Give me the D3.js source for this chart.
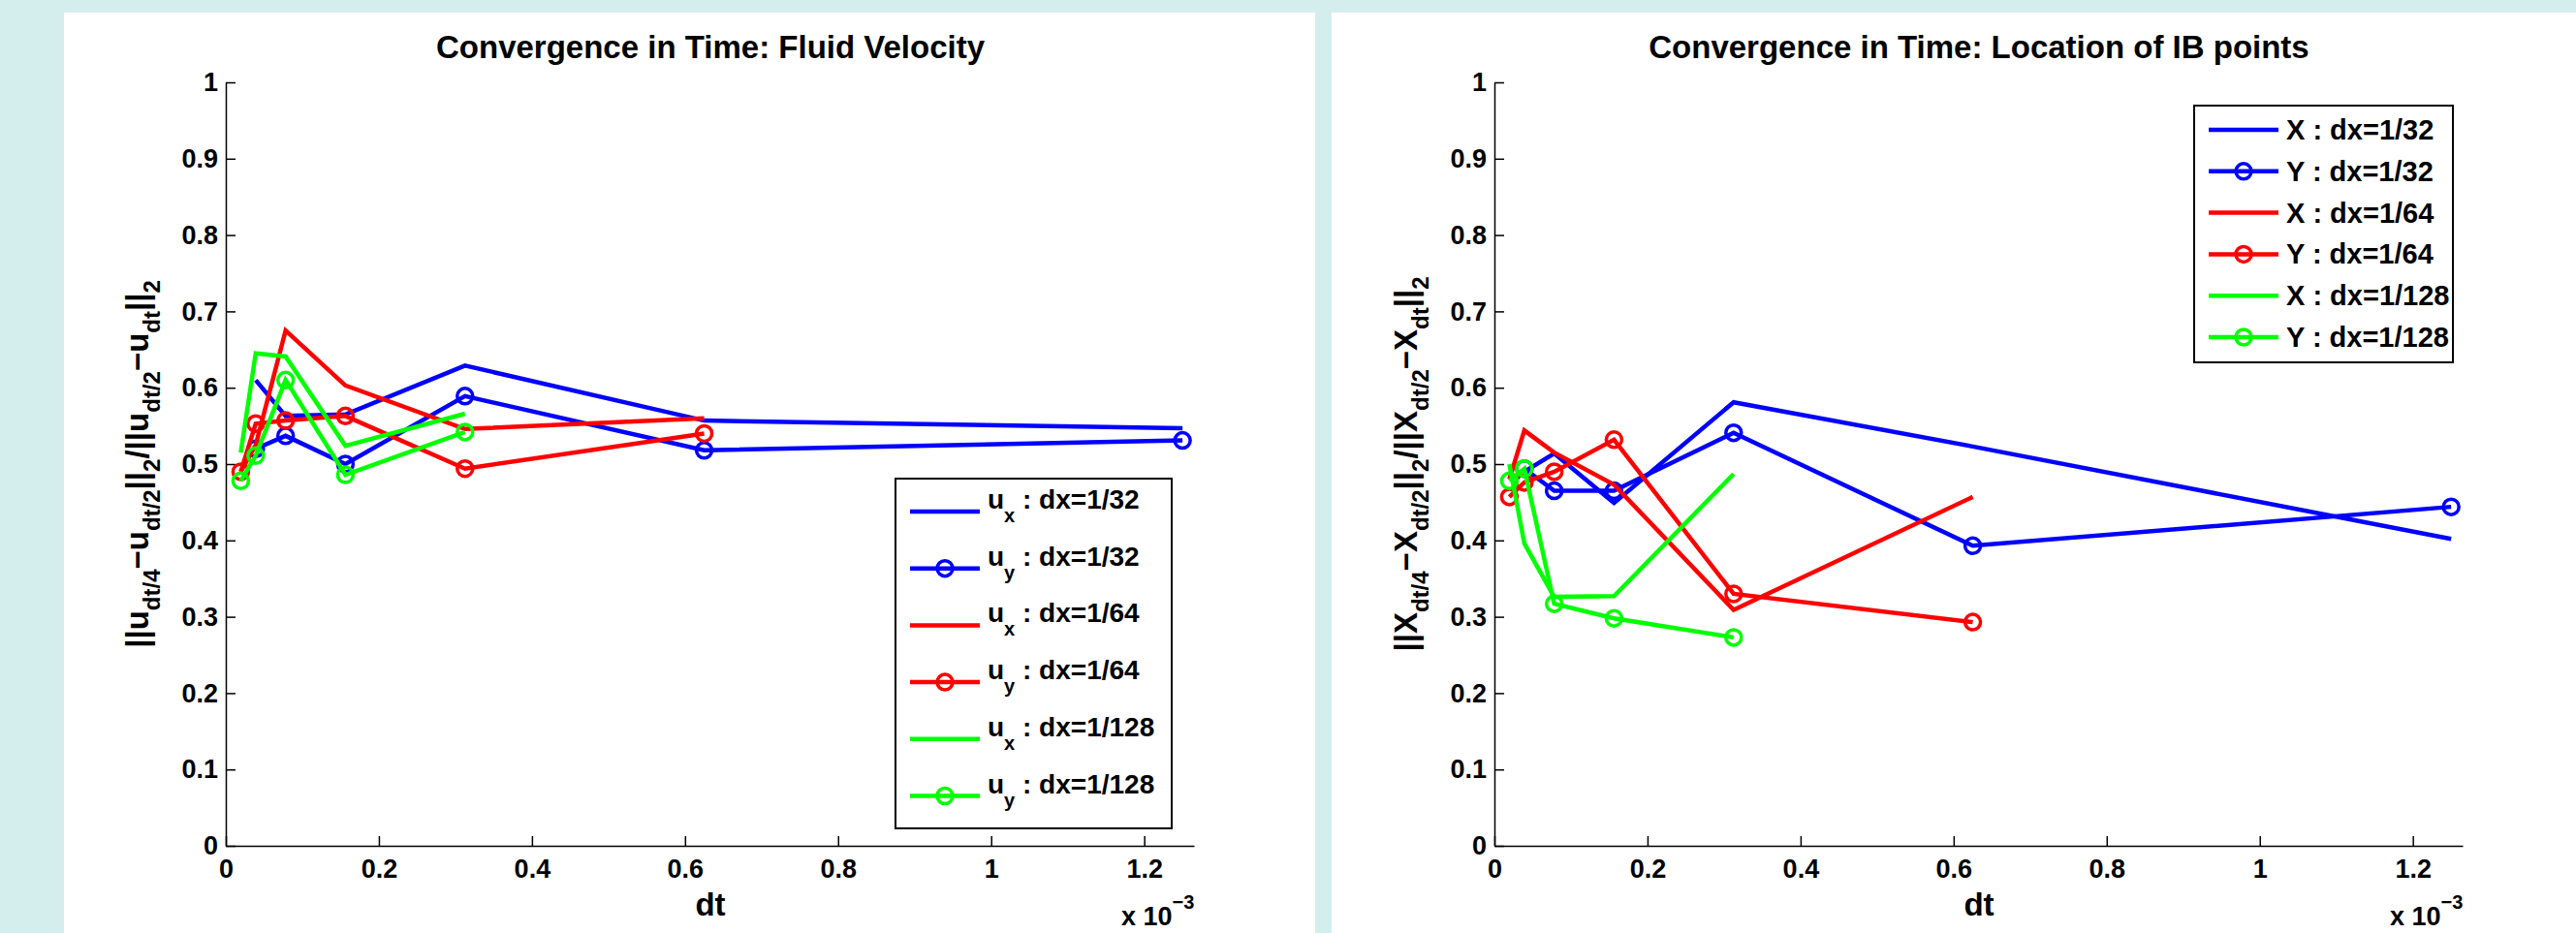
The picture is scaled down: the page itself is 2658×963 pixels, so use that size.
<!DOCTYPE html>
<html lang="en">
<head>
<meta charset="UTF-8">
<title>Convergence in Time</title>
<style>
    html, body { margin: 0; padding: 0; background: #d4eeee; }
    svg { display: block; }
    text { font-family: "Liberation Sans", Arial, Helvetica, sans-serif; font-weight: bold; fill: #000; }
    .axis path, .axis line { stroke: #000; stroke-width: 1.5; }
    .axis text { font-size: 27px; font-family: "Liberation Sans", Arial, sans-serif; font-weight: bold; }
</style>
</head>
<body>
<svg id="fig" width="2658" height="963"></svg>
<script src="https://cdn.jsdelivr.net/npm/d3@7/dist/d3.min.js"></script>
<script>
// time steps for each spatial resolution
const dt32 = [1.25e-3, 6.25e-4, 3.125e-4, 1.5625e-4, 7.8125e-5, 3.90625e-5]
const dt64 = [6.25e-4, 3.125e-4, 1.5625e-4, 7.8125e-5, 3.90625e-5, 1.953125e-5]
const dt128 = [3.125e-4, 1.5625e-4, 7.8125e-5, 3.90625e-5, 1.953125e-5]

// left panel: fluid velocity ratios
const ux32 = [0.547, 0.557, 0.629, 0.565, 0.563, 0.610]
const uy32 = [0.531, 0.518, 0.589, 0.500, 0.537, 0.520]
const ux64 = [0.560, 0.546, 0.603, 0.675, 0.525, 0.490]
const uy64 = [0.540, 0.494, 0.563, 0.557, 0.553, 0.490]
const ux128 = [0.566, 0.524, 0.641, 0.645, 0.515]
const uy128 = [0.542, 0.486, 0.610, 0.511, 0.478]

// right panel: IB point location ratios
const X32 = [0.402, 0.523, 0.581, 0.449, 0.514, 0.490]
const Y32 = [0.444, 0.393, 0.541, 0.465, 0.465, 0.494]
const X64 = [0.457, 0.309, 0.473, 0.515, 0.544, 0.480]
const Y64 = [0.293, 0.330, 0.532, 0.490, 0.476, 0.457]
const X128 = [0.487, 0.327, 0.326, 0.396, 0.500]
const Y128 = [0.273, 0.298, 0.317, 0.494, 0.478]

const xTicks = [0, 0.2e-3, 0.4e-3, 0.6e-3, 0.8e-3, 1.0e-3, 1.2e-3]
const yTicks = [0, 0.1, 0.2, 0.3, 0.4, 0.5, 0.6, 0.7, 0.8, 0.9, 1]

const colors = {c32: '#0000ff', c64: '#ff0000', c128: '#00ff00'}

const svg = d3.select('#fig')

function richText(sel, parts, size, subSize, shift) {
    let cur = 0
    parts.forEach(p => {
        let target = p.sub ? shift : 0
        sel.append('tspan')
            .attr('dy', target - cur)
            .style('font-size', (p.sub ? subSize : size) + 'px')
            .text(p.t)
        cur = target
    })
}

function drawPanel(cfg) {
    const ox = cfg.ox
    svg.append('rect').attr('x', cfg.px).attr('y', 13).attr('width', cfg.pw).attr('height', 950).attr('fill', '#fff')

    const g = svg.append('g').attr('transform', `translate(${ox},0)`)
    const x = d3.scaleLinear().domain([0, 1.265e-3]).range([233, 1232])
    const y = d3.scaleLinear().domain([0, 1]).range([873, 85])

    g.append('g').attr('class', 'axis').attr('transform', 'translate(0,873)')
        .call(d3.axisBottom(x).tickValues(xTicks).tickSize(-10).tickSizeOuter(0).tickPadding(14)
            .tickFormat(d => d3.format('.1~f')(d * 1e3)))
    g.append('g').attr('class', 'axis').attr('transform', 'translate(233,0)')
        .call(d3.axisLeft(y).tickValues(yTicks).tickSize(-10).tickSizeOuter(0).tickPadding(8)
            .tickFormat(d3.format('.1~f')))

    const line = d3.line().x(d => x(d[0])).y(d => y(d[1]))
    cfg.series.forEach(s => {
        const pts = s.dt.map((d, i) => [d, s.v[i]])
        g.append('path').datum(pts).attr('d', line)
            .attr('fill', 'none').attr('stroke', s.color).attr('stroke-width', 4.5)
            .attr('stroke-linejoin', 'miter')
        if (s.marker) {
            g.selectAll(null).data(pts).enter().append('circle')
                .attr('cx', d => x(d[0])).attr('cy', d => y(d[1])).attr('r', 8)
                .attr('fill', 'none').attr('stroke', s.color).attr('stroke-width', 3.5)
        }
    })

    g.append('text').attr('x', 733).attr('y', 60).attr('text-anchor', 'middle')
        .style('font-size', '33px').text(cfg.title)
    g.append('text').attr('x', 733).attr('y', 945).attr('text-anchor', 'middle')
        .style('font-size', '33px').text('dt')
    const ex = g.append('text').attr('x', 1157).attr('y', 955).style('font-size', '27px')
    ex.append('tspan').text('x 10')
    ex.append('tspan').attr('dy', -17).style('font-size', '20px').text('\u22123')

    const yl = g.append('text').attr('text-anchor', 'middle')
        .attr('transform', 'translate(153,479) rotate(-90)')
    richText(yl, cfg.ylabel, 33, 24, 12)

    // legend
    const L = cfg.legend
    g.append('rect').attr('x', L.x).attr('y', L.y).attr('width', L.w).attr('height', L.h)
        .attr('fill', '#fff').attr('stroke', '#000').attr('stroke-width', 2)
    cfg.series.forEach((s, i) => {
        const ly = L.y + L.first + i * L.step
        g.append('line').attr('x1', L.x + 15).attr('x2', L.x + 87).attr('y1', ly).attr('y2', ly)
            .attr('stroke', s.color).attr('stroke-width', 4.5)
        if (s.marker) {
            g.append('circle').attr('cx', L.x + 51).attr('cy', ly).attr('r', 8)
                .attr('fill', 'none').attr('stroke', s.color).attr('stroke-width', 3.5)
        }
        const t = g.append('text').attr('x', L.x + 95).attr('y', ly + L.base)
        richText(t, s.label, L.size, 20, 14)
    })
}

function lab(v, sub, res) {
    return sub ? [{t: v}, {t: sub, sub: true}, {t: ' : dx=1/' + res}] : [{t: v + ' : dx=1/' + res}]
}

drawPanel({
    px: 66, pw: 1291, ox: 0,
    title: 'Convergence in Time: Fluid Velocity',
    ylabel: [{t: '||u'}, {t: 'dt/4', sub: true}, {t: '\u2212u'}, {t: 'dt/2', sub: true}, {t: '||'}, {t: '2', sub: true},
        {t: '/||u'}, {t: 'dt/2', sub: true}, {t: '\u2212u'}, {t: 'dt', sub: true}, {t: '||'}, {t: '2', sub: true}],
    legend: {x: 924, y: 494, w: 285, h: 361, first: 34, step: 58.7, base: -3, size: 28},
    series: [
        {dt: dt32, v: ux32, color: colors.c32, marker: false, label: lab('u', 'x', 32)},
        {dt: dt32, v: uy32, color: colors.c32, marker: true, label: lab('u', 'y', 32)},
        {dt: dt64, v: ux64, color: colors.c64, marker: false, label: lab('u', 'x', 64)},
        {dt: dt64, v: uy64, color: colors.c64, marker: true, label: lab('u', 'y', 64)},
        {dt: dt128, v: ux128, color: colors.c128, marker: false, label: lab('u', 'x', 128)},
        {dt: dt128, v: uy128, color: colors.c128, marker: true, label: lab('u', 'y', 128)}
    ]
})

drawPanel({
    px: 1374, pw: 1284, ox: 1309,
    title: 'Convergence in Time: Location of IB points',
    ylabel: [{t: '||X'}, {t: 'dt/4', sub: true}, {t: '\u2212X'}, {t: 'dt/2', sub: true}, {t: '||'}, {t: '2', sub: true},
        {t: '/||X'}, {t: 'dt/2', sub: true}, {t: '\u2212X'}, {t: 'dt', sub: true}, {t: '||'}, {t: '2', sub: true}],
    legend: {x: 955, y: 109, w: 267, h: 265, first: 25, step: 42.8, base: 10, size: 29},
    series: [
        {dt: dt32, v: X32, color: colors.c32, marker: false, label: lab('X', null, 32)},
        {dt: dt32, v: Y32, color: colors.c32, marker: true, label: lab('Y', null, 32)},
        {dt: dt64, v: X64, color: colors.c64, marker: false, label: lab('X', null, 64)},
        {dt: dt64, v: Y64, color: colors.c64, marker: true, label: lab('Y', null, 64)},
        {dt: dt128, v: X128, color: colors.c128, marker: false, label: lab('X', null, 128)},
        {dt: dt128, v: Y128, color: colors.c128, marker: true, label: lab('Y', null, 128)}
    ]
})
</script>
</body>
</html>
